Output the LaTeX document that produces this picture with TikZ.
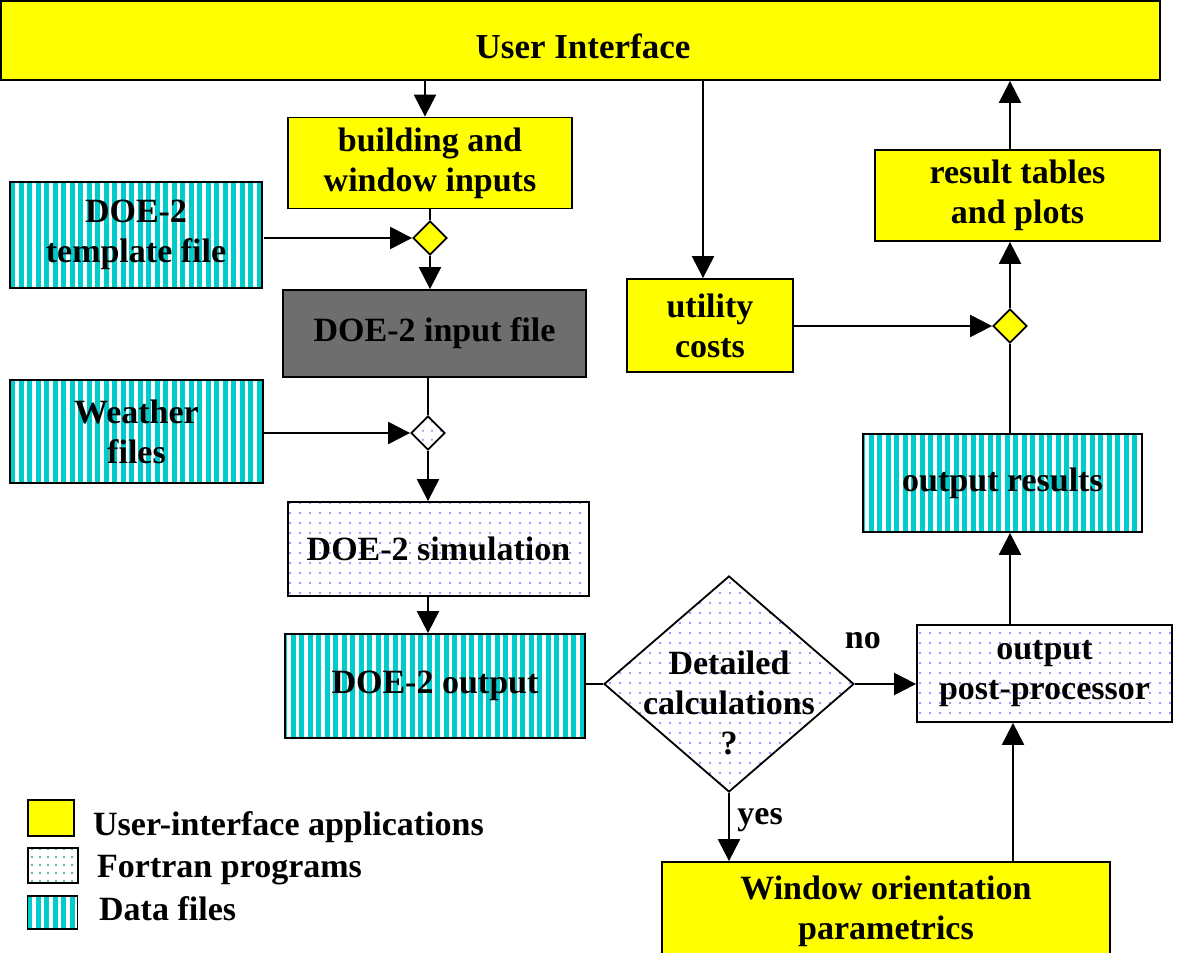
\documentclass[tikz,border=0pt]{standalone}
\usepackage{fontspec}
\setmainfont{Liberation Serif}
\usetikzlibrary{shapes.geometric,arrows.meta,patterns.meta}
\definecolor{uiyellow}{RGB}{255,255,0}
\definecolor{stripecyan}{RGB}{0,204,204}
\definecolor{dotblue}{RGB}{120,120,255}
\definecolor{dotgreen}{RGB}{40,170,120}
\definecolor{darkgray}{RGB}{110,110,110}
\tikzset{
  txt/.style={font=\bfseries\fontsize{34}{40}\selectfont, align=center},
  box/.style={txt, draw=black, line width=1.8pt, rectangle, inner sep=0pt},
  uibox/.style={box, fill=uiyellow},
  databox/.style={box, preaction={fill=stripecyan},
     pattern={Lines[angle=90,distance=8.5pt,line width=3.3pt]}, pattern color=white},
  progbox/.style={box, preaction={fill=white},
     pattern={Dots[distance=10pt,radius=1.1pt]}, pattern color=dotblue},
  grayfile/.style={box, fill=darkgray},
  smalldia/.style={diamond, draw=black, line width=1.8pt, inner sep=0pt,
     minimum width=34pt, minimum height=34pt},
  conn/.style={line width=2.2pt},
  arr/.style={conn, -{Triangle[length=22pt,width=22pt]}},
}
\begin{document}
\begin{tikzpicture}[x=1pt,y=-1pt]
\useasboundingbox (0,0) rectangle (1187,953);
\fill[white] (0,0) rectangle (1187,953);

% main nodes
\node[uibox, minimum width=1159pt, minimum height=79pt] (ui) at (580.5,40.5) {};
\node[txt, font=\bfseries\fontsize{35}{40}\selectfont] (uitxt) at (583,46) {User Interface};
\node[uibox, minimum width=284pt, minimum height=91pt] (bw) at (430,163) {building and\\window inputs};
\node[databox, minimum width=252pt, minimum height=106pt] (tmpl) at (136,235) {DOE-2\\template file};
\node[smalldia, fill=uiyellow] (d1) at (430,238) {};
\node[grayfile, minimum width=303pt, minimum height=87pt] (inp) at (434.5,333.5) {DOE-2 input file};
\node[databox, minimum width=253pt, minimum height=103pt] (wth) at (136.5,431.5) {Weather\\files};
\node[smalldia, preaction={fill=white}, pattern={Dots[distance=9pt,radius=1pt]}, pattern color=dotblue] (d2) at (428,433) {};
\node[progbox, minimum width=301pt, minimum height=94pt] (sim) at (438.5,549) {DOE-2 simulation};
\node[databox, minimum width=300pt, minimum height=104pt] (out) at (435,686) {DOE-2 output};
\node[diamond, draw=black, line width=1.8pt, inner sep=0pt, minimum width=250pt, minimum height=216pt,
      preaction={fill=white}, pattern={Dots[distance=10pt,radius=1.1pt]}, pattern color=dotblue] (dec) at (729,684) {};
\node[txt] (dectxt) at (729,703) {Detailed\\calculations\\?};
\node[progbox, minimum width=255pt, minimum height=97pt] (post) at (1044.5,673.5) {output\\post-processor};
\node[uibox, minimum width=448pt, minimum height=98pt] (win) at (886,911) {Window orientation\\parametrics};
\node[databox, minimum width=279pt, minimum height=98pt] (res) at (1002.5,483) {output results};
\node[uibox, minimum width=166pt, minimum height=93pt] (util) at (710,325.5) {utility\\costs};
\node[uibox, minimum width=285pt, minimum height=91pt] (tab) at (1017.5,195.5) {result tables\\and plots};
\node[smalldia, fill=uiyellow] (d3) at (1010,326) {};

% connectors
\draw[arr] ([xshift=-5pt]bw.north |- ui.south) -- ([xshift=-5pt]bw.north);
\draw[conn] (bw.south -| d1) -- (d1.north);
\draw[arr] (tmpl.east |- d1) -- (d1.west);
\draw[arr] (d1.south) -- (inp.north -| d1);
\draw[conn] (inp.south -| d2) -- (d2.north);
\draw[arr] (wth.east |- d2) -- (d2.west);
\draw[arr] (d2.south) -- (sim.north -| d2);
\draw[arr] (sim.south -| d2) -- (out.north -| d2);
\draw[conn] (out.east |- dec) -- (dec.west);
\draw[arr] (dec.east) -- (post.west |- dec) node[txt, pos=0.13, above=31pt] (nolbl) {no};
\draw[arr] (dec.south) -- (win.north -| dec.south) node[txt, pos=0.4, right=4pt] (yeslbl) {yes};
\draw[arr] ([xshift=127pt]win.north) -- ([xshift=127pt]win.north |- post.south);
\draw[arr] (post.north -| d3) -- (res.south -| d3);
\draw[conn] (res.north -| d3) -- (d3.south);
\draw[arr] (util.east |- d3) -- (d3.west);
\draw[arr] (d3.north) -- (tab.south -| d3);
\draw[arr] (tab.north -| d3) -- (ui.south -| d3);
\draw[arr] ([xshift=-7pt]util.north |- ui.south) -- ([xshift=-7pt]util.north);

% legend
\node[box, fill=uiyellow, minimum width=46pt, minimum height=36pt] (lg1) at (51,818) {};
\node[box, preaction={fill=white}, pattern={Dots[distance=8pt,radius=1.2pt]}, pattern color=dotgreen, minimum width=50pt, minimum height=35pt] (lg2) at (53,865.5) {};
\node[databox, minimum width=50pt, minimum height=33pt] (lg3) at (52.5,912.5) {};
\node[txt, anchor=base west, inner sep=0pt] (lt1) at (93,835) {User-interface applications};
\node[txt, anchor=base west, inner sep=0pt] (lt2) at (97,877) {Fortran programs};
\node[txt, anchor=base west, inner sep=0pt] (lt3) at (99,920) {Data files};
\end{tikzpicture}
\end{document}
